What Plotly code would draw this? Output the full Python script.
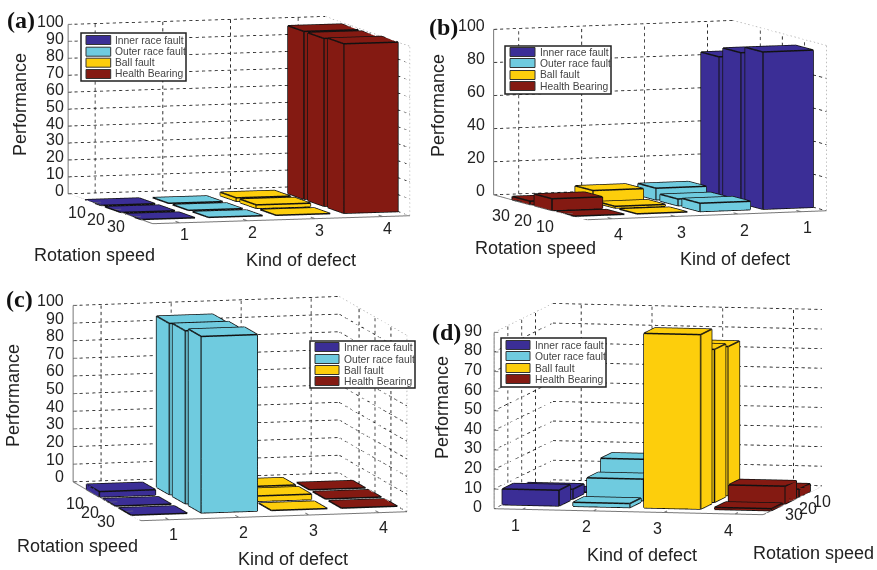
import math
import plotly.graph_objects as go

W, H = 877, 570
SERIES = ["Inner race fault", "Outer race fault", "Ball fault", "Health Bearing"]
COLORS = ["#3B2E96", "#6FCBDF", "#FDCE0C", "#841A12"]
DEFECTS = [1, 2, 3, 4]
SPEEDS = [10, 20, 30]

# performance per defect kind, for speeds 10, 20, 30
a_vals = [[0, 0, 0], [0, 0, 0], [2, 2, 0], [99, 99, 100]]
b_vals = [[95, 91, 85], [5, 4, 7], [0, 1, 7], [0, 7, 2]]
c_vals = [[3, 0, 0], [97, 98, 100], [3, 3, 0], [0, 0, 0]]
d_vals = [[0, 5, 8], [17.5, 11, 2], [76, 78, 89], [4, 9, 1]]

a_zticks = list(range(0, 101, 10))
b_zticks = list(range(0, 101, 20))
c_zticks = list(range(0, 101, 10))
d_zticks = list(range(0, 91, 10))

EYE_DIST = 2.5
P = 140.5

PANELS = [
    dict(name="scene", vals=a_vals, zt=a_zticks, X=(258, 8), Y=(-85, 30), Z=170, c=(238.5, 120), dom=(21.5, 0), xflip=False, yflip=True, side="right",
         xo=(5, -12), yo=(-16, -10), zo=(-2, 3),
         letter="(a)", lp=(21, 20), rs=(94, 255), kd=(301, 260), pf=(20, 105), leg=(81, 33, 186, 81), sw=(86, 110.7), rows=(40, 51.7, 62.7, 74)),
    dict(name="scene2", vals=b_vals, zt=b_zticks, X=(240, 9), Y=(-94, 25), Z=166, c=(660, 120), dom=(443, 0), xflip=True, yflip=False, side="right",
         xo=(6, -16), yo=(-20, -13), zo=(-7, 4),
         letter="(b)", lp=(443, 27), rs=(535, 248), kd=(735, 259), pf=(438, 106), leg=(505, 46, 611, 94), sw=(510, 535), rows=(52, 63, 75, 86)),
    dict(name="scene3", vals=c_vals, zt=c_zticks, X=(267, 9), Y=(-68, 39), Z=177, c=(239.5, 408.5), dom=(22.5, 290), xflip=False, yflip=True, side="right",
         xo=(5, -15), yo=(-18, -10), zo=(-7, 5),
         letter="(c)", lp=(19, 299), rs=(77, 546), kd=(293, 559), pf=(13, 396), leg=(310, 341, 415, 388), sw=(315, 339), rows=(347, 359, 370, 381)),
    dict(name="scene4", vals=d_vals, zt=d_zticks, X=(270, -6), Y=(59, 29), Z=177, c=(657.5, 409), dom=(440.5, 290), xflip=False, yflip=True, side="left",
         xo=(-6, -16), yo=(18, -7), zo=(-10, 2),
         letter="(d)", lp=(446, 332), rs=(813, 553), kd=(642, 555), pf=(442, 407), leg=(501, 338, 606, 387), sw=(506, 530), rows=(345, 356, 368, 379)),
]
DW, DH = 434, 280
XR = (0.6, 4.4)
YR = (0.0, 4.25)


def view(p):
    xs, xu = p["X"]
    ys, yu = p["Y"]
    tsp = abs(xu / xs)
    spt = abs(yu / ys)
    sphi = math.sqrt(tsp * spt)
    tth = math.sqrt(tsp / spt)
    th = math.atan(tth) * (1 if ys < 0 else -1)
    phi = math.asin(sphi)
    A = abs(xs) / math.cos(th)
    B = abs(ys) / abs(math.sin(th))
    C = p["Z"] / math.cos(phi)
    return th, phi, A, B, C


def bar(xc, yc, h, w=0.8):
    x0, x1, y0, y1 = xc - w / 2, xc + w / 2, yc - w / 2, yc + w / 2
    xs = [x0, x1, x1, x0, x0, x1, x1, x0]
    ys = [y0, y0, y1, y1, y0, y0, y1, y1]
    zs = [0, 0, 0, 0, h, h, h, h]
    i = [0, 0, 4, 4, 0, 0, 1, 1, 2, 2, 3, 3]
    j = [1, 2, 5, 6, 1, 5, 2, 6, 3, 7, 0, 4]
    k = [2, 3, 6, 7, 5, 4, 6, 5, 7, 6, 4, 7]
    ex, ey, ez = [], [], []
    for a, b in [(0, 1), (1, 2), (2, 3), (3, 0), (4, 5), (5, 6), (6, 7), (7, 4), (0, 4), (1, 5), (2, 6), (3, 7)]:
        ex += [xs[a], xs[b], None]
        ey += [ys[a], ys[b], None]
        ez += [zs[a], zs[b], None]
    return xs, ys, zs, i, j, k, ex, ey, ez


fig = go.Figure()
shapes, annos = [], []


def txt(x, y, s, size, color="#222", family="Liberation Sans", rot=0, anchor="center", bold=False):
    annos.append(dict(x=x / W, y=1 - y / H, xref="paper", yref="paper", text=f"<b>{s}</b>" if bold else s,
                      showarrow=False, xanchor=anchor, yanchor="middle", textangle=rot,
                      font=dict(size=size, color=color, family=family)))


def line_trace(sc, xs, ys, zs, color, width):
    fig.add_trace(go.Scatter3d(x=xs, y=ys, z=zs, mode="lines", scene=sc, hoverinfo="skip", showlegend=False,
                               line=dict(color=color, width=width)))


for p in PANELS:
    th, phi, A, B, C = view(p)
    sc = p["name"]
    zmax = p["zt"][-1]
    xlen = XR[1] - XR[0]
    ylen = YR[1] - YR[0]
    sxpx = math.hypot(*p["X"]) / xlen
    sypx = math.hypot(*p["Y"]) / ylen
    szpx = p["Z"] / zmax
    pos_x = lambda v: 5 - v if p["xflip"] else v
    pos_y = lambda idx: 4 - idx if p["yflip"] else idx

    def dashes(store, a, b, on=3.2, off=3.2):
        dx, dy, dz = b[0] - a[0], b[1] - a[1], b[2] - a[2]
        L = math.sqrt((dx * sxpx) ** 2 + (dy * sypx) ** 2 + (dz * szpx) ** 2)
        m = 0
        while m * (on + off) < L:
            t0 = m * (on + off) / L
            t1 = min(1, t0 + on / L)
            store[0] += [a[0] + dx * t0, a[0] + dx * t1, None]
            store[1] += [a[1] + dy * t0, a[1] + dy * t1, None]
            store[2] += [a[2] + dz * t0, a[2] + dz * t1, None]
            m += 1

    # dashed walls
    wall_x = XR[1] if p["side"] == "right" else XR[0]
    g = [[], [], []]
    lite = [[], [], []]
    for z in p["zt"]:
        dashes(g, (XR[0], YR[1], z), (XR[1], YR[1], z))
        if z == zmax:
            dashes(lite, (wall_x, YR[1], z), (wall_x, YR[0], z), 1.5, 2.5)
        else:
            dashes(g, (wall_x, YR[1], z), (wall_x, YR[0], z))
    for v in DEFECTS:
        dashes(g, (v, YR[1], 0), (v, YR[1], zmax))
    for v in (1, 2, 3):
        dashes(g, (wall_x, v, 0), (wall_x, v, zmax))
    dashes(lite, (wall_x, YR[0], 0), (wall_x, YR[0], zmax), 1.5, 2.5)
    line_trace(sc, *g, "#111", 1.6)
    line_trace(sc, *lite, "#999", 1.2)

    # solid axis lines and tick stubs
    zx, zy = (XR[0], YR[1]) if p["side"] == "right" else (XR[0], YR[0])
    side_x = XR[0] if p["side"] == "right" else XR[1]
    ax = [zx, zx, None, XR[0], XR[1], None, side_x, side_x, None]
    ay = [zy, zy, None, YR[0], YR[0], None, YR[0], YR[1], None]
    az = [0, zmax, None, 0, 0, None, 0, 0, None]
    for v in DEFECTS:
        ax += [v, v, None]; ay += [YR[0], YR[0] + 0.22, None]; az += [0, 0, None]
    for v in (1, 2, 3):
        sgn = 1 if side_x == XR[0] else -1
        ax += [side_x, side_x + sgn * 0.12, None]; ay += [v, v, None]; az += [0, 0, None]
    for z in p["zt"]:
        ax += [zx, zx + 0.06, None]; ay += [zy, zy, None]; az += [z, z, None]
    line_trace(sc, ax, ay, az, "#777", 2)

    for s, (vals, col) in enumerate(zip(p["vals"], COLORS)):
        mx, my, mz, mi, mj, mk, ex, ey, ez = [], [], [], [], [], [], [], [], []
        for idx, v in enumerate(vals):
            xs, ys, zs, i, j, k, lx, ly, lz = bar(pos_x(DEFECTS[s]), pos_y(idx + 1), v)
            n = len(mx)
            mx += xs; my += ys; mz += zs
            mi += [t + n for t in i]; mj += [t + n for t in j]; mk += [t + n for t in k]
            ex += lx; ey += ly; ez += lz
        fig.add_trace(go.Mesh3d(x=mx, y=my, z=mz, i=mi, j=mj, k=mk, color=col, flatshading=True, scene=sc,
                                lighting=dict(ambient=1, diffuse=0, specular=0, roughness=1, fresnel=0),
                                hoverinfo="skip", showlegend=False))
        line_trace(sc, ex, ey, ez, "#111", 3)

    xt = [pos_x(v) for v in DEFECTS]
    yt = [pos_y(i + 1) for i in range(3)]
    tf = dict(size=16, family="Liberation Sans", color="#222")
    scene_ann = []
    for v, t in zip(xt, DEFECTS):
        scene_ann.append(dict(x=v, y=YR[0], z=0, text=str(t), showarrow=False, xshift=p["xo"][0], yshift=p["xo"][1], font=tf))
    for v, t in zip(yt, SPEEDS):
        scene_ann.append(dict(x=side_x, y=v, z=0, text=str(t), showarrow=False, xshift=p["yo"][0], yshift=p["yo"][1], font=tf))
    for z in p["zt"]:
        scene_ann.append(dict(x=zx, y=zy, z=z, text=str(z), showarrow=False, xanchor="right", xshift=p["zo"][0], yshift=p["zo"][1], font=tf))

    axcommon = dict(showbackground=False, showgrid=False, zeroline=False, showspikes=False, title=dict(text=""),
                    showline=False, ticks="", showticklabels=False)
    off_y = (p["dom"][1] + DH / 2) - p["c"][1]
    cz = -off_y / (P * math.cos(phi))
    d = EYE_DIST
    e = (-math.sin(th) * math.cos(phi) * d, -math.cos(th) * math.cos(phi) * d, math.sin(phi) * d)
    layout_scene = dict(
        domain=dict(x=[p["dom"][0] / W, (p["dom"][0] + DW) / W], y=[1 - (p["dom"][1] + DH) / H, 1 - p["dom"][1] / H]),
        aspectmode="manual", aspectratio=dict(x=A / P, y=B / P, z=C / P),
        xaxis=dict(range=list(XR), **axcommon),
        yaxis=dict(range=list(YR), **axcommon),
        zaxis=dict(range=[0, zmax], **axcommon),
        annotations=scene_ann,
        camera=dict(projection=dict(type="orthographic"), up=dict(x=0, y=0, z=1), center=dict(x=0, y=0, z=cz),
                    eye=dict(x=e[0], y=e[1], z=e[2] + cz)),
    )
    fig.update_layout(**{sc: layout_scene})
    txt(*p["rs"], "Rotation speed", 18)
    txt(*p["kd"], "Kind of defect", 18)
    txt(*p["pf"], "Performance", 18, rot=-90)
    txt(*p["lp"], p["letter"], 24, color="#111", family="Liberation Serif", bold=True)
    lx0, ly0, lx1, ly1 = p["leg"]
    shapes.append(dict(type="rect", xref="paper", yref="paper", x0=lx0 / W, x1=lx1 / W, y0=1 - ly0 / H, y1=1 - ly1 / H,
                       fillcolor="white", line=dict(color="#222", width=1.5), layer="above"))
    for name, col, ry in zip(SERIES, COLORS, p["rows"]):
        shapes.append(dict(type="rect", xref="paper", yref="paper", x0=p["sw"][0] / W, x1=p["sw"][1] / W,
                           y0=1 - (ry - 4.5) / H, y1=1 - (ry + 4.5) / H, fillcolor=col,
                           line=dict(color="#333", width=1), layer="above"))
        txt(p["sw"][1] + 2.5, ry, name, 10.3, color="#444", anchor="left")

fig.update_layout(width=W, height=H, margin=dict(l=0, r=0, t=0, b=0), paper_bgcolor="white", plot_bgcolor="white",
                  shapes=shapes, annotations=annos, showlegend=False, autosize=False)
fig.write_html("out.html", config=dict(displayModeBar=False), post_script="document.body.style.margin='0';")
